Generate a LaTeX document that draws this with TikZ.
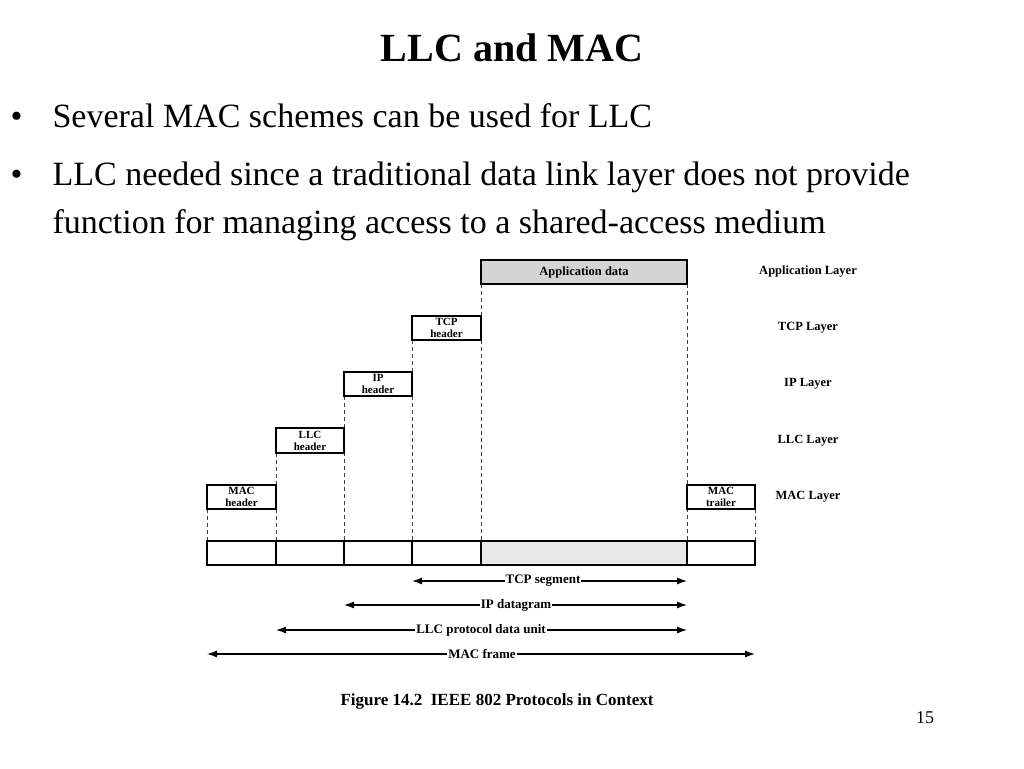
\documentclass[tikz,border=0pt]{standalone}
\usepackage{fontspec}
\setmainfont{Liberation Serif}
\usetikzlibrary{arrows.meta}
\begin{document}
\begin{tikzpicture}[x=1pt,y=-1pt,
  box/.style={draw=black,line width=1.4pt,inner sep=0pt,font=\fontsize{11}{12}\selectfont\bfseries,align=center},
  hdr/.style={box,fill=white},
  cell/.style={draw=black,line width=1.4pt,inner sep=0pt,minimum height=24pt},
  guide/.style={draw=black!75,dash pattern=on 4pt off 3pt,line width=0.8pt},
  layer/.style={font=\fontsize{12.5}{14}\selectfont\bfseries},
  span/.style={line width=1.2pt,{Latex[length=10pt,width=7pt]}-{Latex[length=10pt,width=7pt]}},
  spanlbl/.style={fill=white,inner sep=1pt,font=\fontsize{13}{14}\selectfont\bfseries},
  body/.style={anchor=base west,font=\fontsize{34}{40}\selectfont}]
\useasboundingbox[fill=white] (0,0) rectangle (1024,768);
% title and bullets
\node[font=\fontsize{40}{44}\selectfont\bfseries] (title) at (512,48) {LLC and MAC};
\node[body] (b1) at (7,127) {•};
\node[body] (t1) at (49,127) {Several MAC schemes can be used for LLC};
\node[body] (b2) at (7,185) {•};
\node[body] (t2) at (49,185) {LLC needed since a traditional data link layer does not provide};
\node[body] (t3) at (49,233) {function for managing access to a shared-access medium};
% dashed guide lines
\draw[guide] (481,284) -- (481,541);
\draw[guide] (687,284) -- (687,541);
\draw[guide] (412,340) -- (412,541);
\draw[guide] (344,396) -- (344,541);
\draw[guide] (276,453) -- (276,541);
\draw[guide] (207,509) -- (207,541);
\draw[guide] (755,509) -- (755,541);
% header boxes
\node[box,fill=black!17,minimum width=206pt,minimum height=24pt,font=\fontsize{12.5}{13}\selectfont\bfseries] (app) at (584,272) {Application data};
\node[hdr,minimum width=69pt,minimum height=24pt] (tcp) at (446.5,328) {TCP\\header};
\node[hdr,minimum width=68pt,minimum height=24pt] (ip) at (378,384) {IP\\header};
\node[hdr,minimum width=68pt,minimum height=25pt] (llc) at (310,440.5) {LLC\\header};
\node[hdr,minimum width=69pt,minimum height=24pt] (mach) at (241.5,497) {MAC\\header};
\node[hdr,minimum width=68pt,minimum height=24pt] (mact) at (721,497) {MAC\\trailer};
% layer labels
\node[layer] (lapp) at (808,272) {Application Layer};
\node[layer] (ltcp) at (808,328) {TCP Layer};
\node[layer] (lip) at (808,384) {IP Layer};
\node[layer] (lllc) at (808,441) {LLC Layer};
\node[layer] (lmac) at (808,497) {MAC Layer};
% frame row
\node[cell,minimum width=69pt] (c1) at (241.5,553) {};
\node[cell,minimum width=68pt] (c2) at (310,553) {};
\node[cell,minimum width=68pt] (c3) at (378,553) {};
\node[cell,minimum width=69pt] (c4) at (446.5,553) {};
\node[cell,fill=black!9,minimum width=206pt] (c5) at (584,553) {};
\node[cell,minimum width=68pt] (c6) at (721,553) {};
% spans
\coordinate (s1l) at (412,581); \coordinate (s1r) at (687,581);
\coordinate (s2l) at (344,605); \coordinate (s2r) at (687,605);
\coordinate (s3l) at (276,630); \coordinate (s3r) at (687,630);
\coordinate (s4l) at (207,654); \coordinate (s4r) at (755,654);
\draw[span] (s1l) -- (s1r);
\draw[span] (s2l) -- (s2r);
\draw[span] (s3l) -- (s3r);
\draw[span] (s4l) -- (s4r);
\node[spanlbl] (l1) at (543,581) {TCP segment};
\node[spanlbl] (l2) at (516,605) {IP datagram};
\node[spanlbl] (l3) at (481,630) {LLC protocol data unit};
\node[spanlbl] (l4) at (482,654) {MAC frame};
% caption
\node[font=\fontsize{17}{19}\selectfont\bfseries] (cap) at (497,701) {Figure 14.2\ \ IEEE 802 Protocols in Context};
\node[font=\fontsize{18}{20}\selectfont] (pg) at (925,718) {15};
\end{tikzpicture}
\end{document}
